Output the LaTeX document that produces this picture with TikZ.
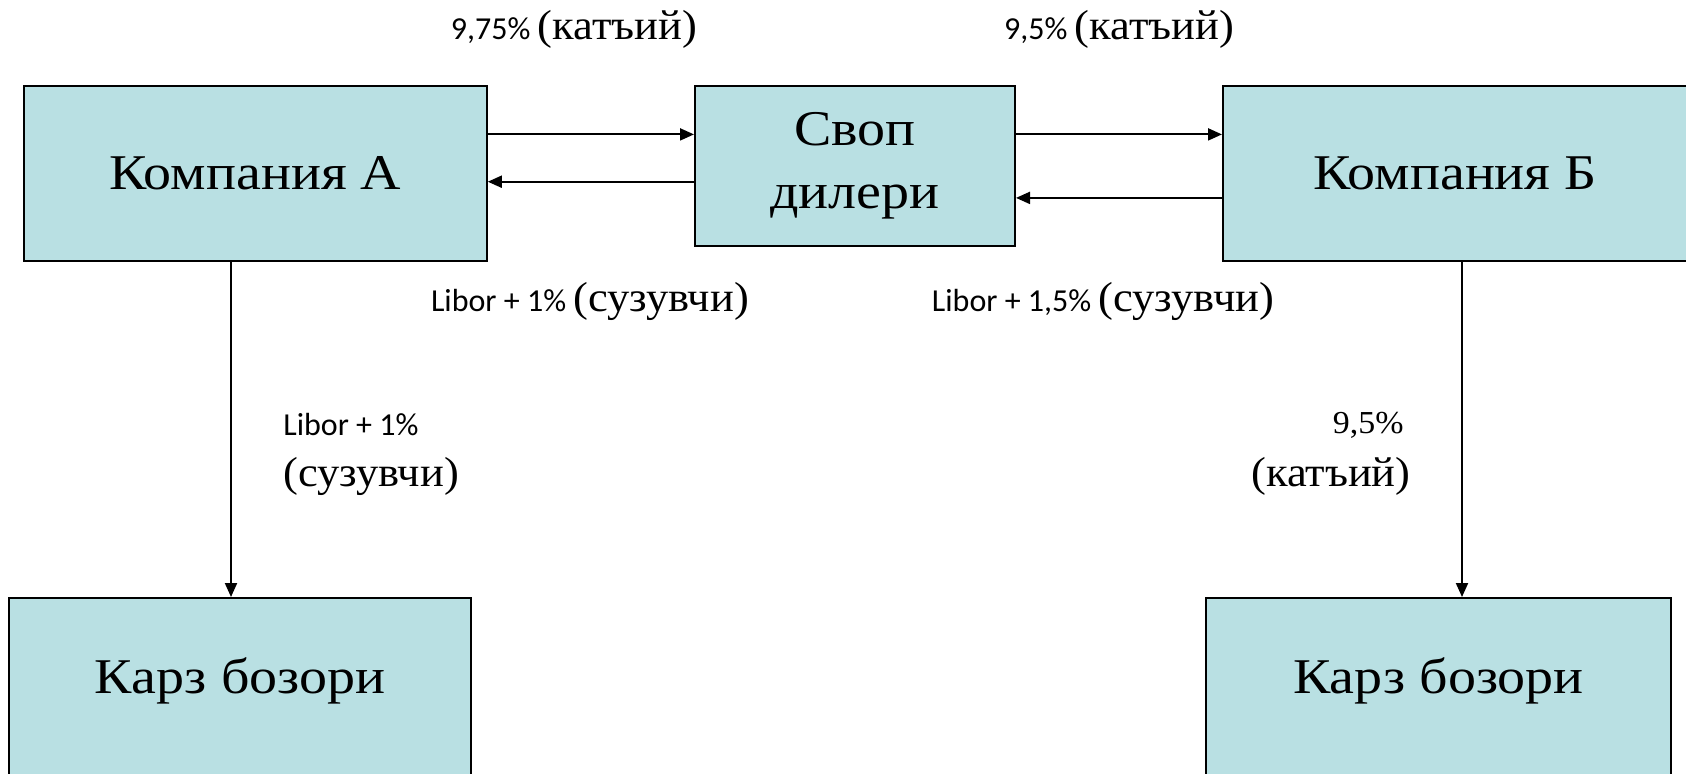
\documentclass[tikz,border=0pt]{standalone}
\usepackage{fontspec}
\setmainfont{Liberation Serif}
\newfontfamily\sansf{Carlito}
\newfontfamily\boxf[FakeStretch=1.12]{Liberation Serif}
\newfontfamily\labf[FakeStretch=1.06]{Liberation Serif}
\usetikzlibrary{arrows.meta}
\definecolor{boxfill}{HTML}{B9E0E3}
\begin{document}
\begin{tikzpicture}[x=0.5pt,y=-0.5pt,
  box/.style={draw=black, line width=1pt, fill=boxfill, inner sep=0pt, align=center,
    font=\fontsize{25}{31.5}\selectfont\boxf},
  arr/.style={line width=1pt, -{Triangle[length=7pt,width=6pt]}},
  lab/.style={inner sep=0pt, font=\fontsize{16}{19}\selectfont\sansf},
  slab/.style={inner sep=0pt, font=\fontsize{21}{25}\selectfont\labf},
  ]
\useasboundingbox (0,0) rectangle (1686,773);
\clip (0,0) rectangle (1686,773);
% boxes
\node[box, minimum width=231.5pt, minimum height=87.5pt] (A) at (255.3,173.5) {Компания А};
\node[box, minimum width=160pt, minimum height=80pt] (S) at (855,166) {Своп\\дилери};
\node[box, minimum width=232pt, minimum height=87.5pt] (B) at (1455,173.5) {Компания Б};
\node[box, minimum width=231pt, minimum height=88.5pt] (K1) at (240,686.5) {};
\node[box, minimum width=232.5pt, minimum height=88.5pt] (K2) at (1438.5,686.5) {};
\node[inner sep=0pt, font=\fontsize{25}{30}\selectfont\boxf] (K1t) at (240,681) {Карз бозори};
\node[inner sep=0pt, font=\fontsize{25}{30}\selectfont\boxf] (K2t) at (1438.5,681) {Карз бозори};
% helper coordinates
\coordinate (r1) at (0,134.4);
\coordinate (r2) at (0,181.7);
\coordinate (r3) at (0,197.9);
\coordinate (v1) at (231,0);
\coordinate (v2) at (1462,0);
% arrows
\draw[arr] (A.east |- r1) -- (S.west |- r1);
\draw[arr] (S.west |- r2) -- (A.east |- r2);
\draw[arr] (S.east |- r1) -- (B.west |- r1);
\draw[arr] (B.west |- r3) -- (S.east |- r3);
\draw[arr] (A.south -| v1) -- (K1.north -| v1);
\draw[arr] (B.south -| v2) -- (K2.north -| v2);
% labels
\node[lab] (l1) at (574,29) {9,75\% {\fontsize{21}{25}\selectfont\labf (катъий)}};
\node[lab] (l2) at (1119,29) {9,5\% {\fontsize{21}{25}\selectfont\labf (катъий)}};
\node[lab] (l3) at (590,301) {Libor + 1\% {\fontsize{21}{25}\selectfont\labf (сузувчи)}};
\node[lab] (l4) at (1103,301) {Libor + 1,5\% {\fontsize{21}{25}\selectfont\labf (сузувчи)}};
\node[lab, anchor=west] (l5) at (283,425) {Libor + 1\%};
\node[slab, anchor=west] (l6) at (283,476) {(сузувчи)};
\node[inner sep=0pt, anchor=east, font=\fontsize{16}{19}\selectfont\labf] (l7) at (1404,425) {9,5\%};
\node[slab, anchor=east] (l8) at (1411,476) {(катъий)};
\end{tikzpicture}
\end{document}
